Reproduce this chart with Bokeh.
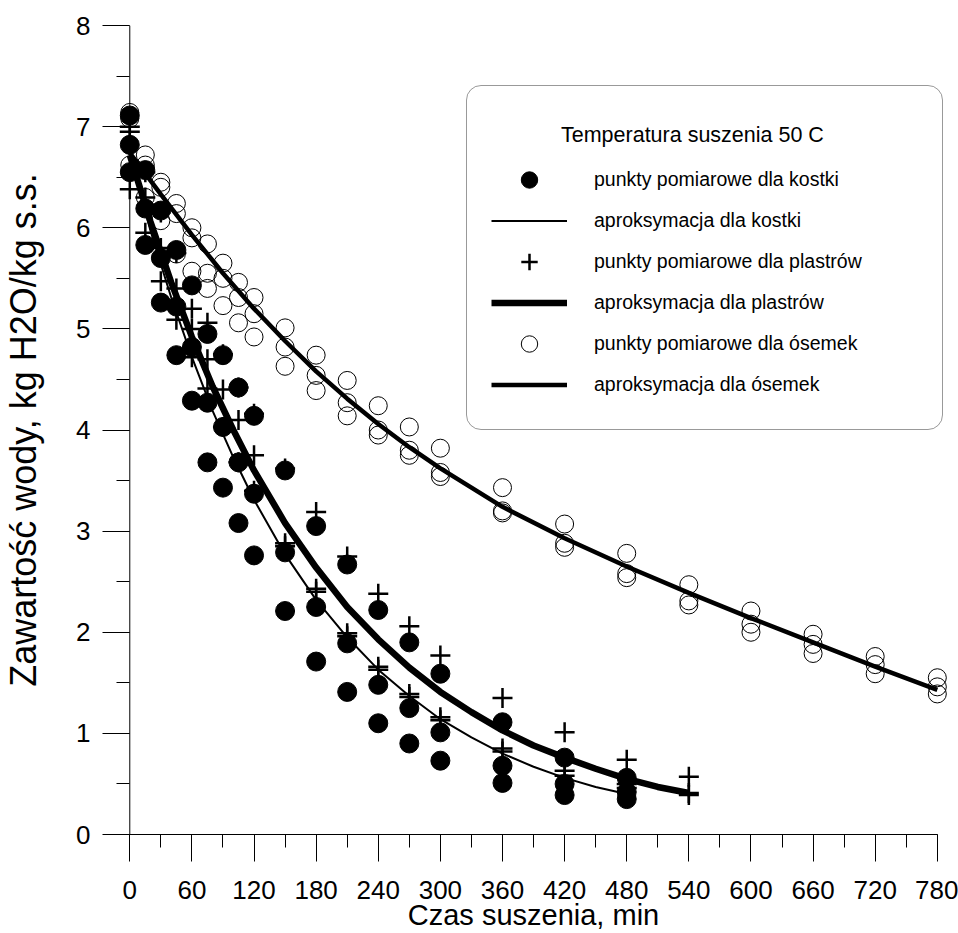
from bokeh.plotting import figure
from bokeh.models import Range1d, SingleIntervalTicker, Span, Legend, LegendItem, Label
from bokeh.embed import file_html
from bokeh.resources import INLINE

FONT = "Liberation Sans"

# ---- measured points: kostka (filled circles), 3 replicates ----
kostka_time = [0, 15, 30, 45, 60, 75, 90, 105, 120, 150, 180, 210, 240, 270, 300, 360, 420, 480]
kostka_r1 = [7.11, 6.57, 6.17, 5.78, 5.43, 4.95, 4.74, 4.42, 4.14, 3.60, 3.05, 2.67, 2.22, 1.90, 1.59, 1.11, 0.76, 0.56]
kostka_r2 = [6.82, 6.19, 5.70, 5.22, 4.82, 4.27, 4.03, 3.68, 3.37, 2.79, 2.25, 1.89, 1.48, 1.25, 1.01, 0.68, 0.50, 0.42]
kostka_r3 = [6.55, 5.83, 5.26, 4.74, 4.29, 3.68, 3.43, 3.08, 2.76, 2.21, 1.71, 1.41, 1.10, 0.90, 0.73, 0.51, 0.39, 0.35]

# ---- measured points: plastry (plus signs) ----
plastry_time = [0, 15, 30, 45, 60, 75, 90, 105, 120, 150, 180, 210, 240, 270, 300, 360, 420, 480, 540]
plastry_r1 = [7.00, 6.55, 6.15, 5.75, 5.20, 5.06, 4.75, 4.42, 4.16, 3.62, 3.19, 2.75, 2.38, 2.06, 1.77, 1.35, 1.01, 0.74, 0.57]
plastry_r2 = [6.38, 5.95, 5.47, 5.09, 4.72, 4.41, 4.03, 3.68, 3.40, 2.88, 2.43, 1.99, 1.66, 1.39, 1.16, 0.85, 0.63, 0.50, 0.41]
plastry_r3 = [6.95, 6.30, 5.80, 5.40, 5.00, 4.70, 4.40, 4.10, 3.75, 2.85, 2.40, 1.96, 1.63, 1.36, 1.13, 0.82, 0.58, 0.46, 0.39]

# ---- measured points: ósemki (open circles) ----
osemki_time = [0, 15, 30, 45, 60, 75, 90, 105, 120, 150, 180, 210, 240, 270, 300, 360, 420, 480, 540, 600, 660, 720, 780]
osemki_r1 = [7.14, 6.72, 6.45, 6.24, 6.00, 5.84, 5.65, 5.46, 5.31, 5.01, 4.74, 4.49, 4.24, 4.03, 3.82, 3.43, 3.07, 2.78, 2.47, 2.21, 1.98, 1.76, 1.55]
osemki_r2 = [7.08, 6.62, 6.40, 6.14, 5.90, 5.55, 5.50, 5.31, 5.15, 4.82, 4.54, 4.27, 4.00, 3.80, 3.58, 3.20, 2.88, 2.58, 2.31, 2.08, 1.88, 1.68, 1.46]
osemki_r3 = [6.62, 6.30, 6.07, 5.74, 5.57, 5.40, 5.23, 5.06, 4.92, 4.63, 4.39, 4.14, 3.95, 3.75, 3.54, 3.18, 2.84, 2.54, 2.27, 2.00, 1.79, 1.59, 1.39]

# ---- approximation curves ----
kostka_fit_t = [0, 20, 40, 60, 80, 100, 120, 150, 180, 210, 240, 270, 300, 330, 360, 390, 420, 450, 480]
kostka_fit_v = [6.72, 5.97, 5.31, 4.72, 4.19, 3.73, 3.31, 2.77, 2.32, 1.95, 1.63, 1.37, 1.14, 0.96, 0.80, 0.67, 0.56, 0.47, 0.40]
plastry_fit_t = [0, 20, 40, 60, 80, 100, 120, 150, 180, 210, 240, 270, 300, 330, 360, 390, 420, 450, 480, 510, 540]
plastry_fit_v = [6.72, 6.06, 5.46, 4.92, 4.43, 4.00, 3.60, 3.08, 2.64, 2.25, 1.93, 1.65, 1.41, 1.21, 1.03, 0.88, 0.76, 0.65, 0.55, 0.47, 0.41]
osemki_fit_t = [0, 30, 60, 90, 120, 150, 180, 210, 240, 270, 300, 360, 420, 480, 540, 600, 660, 720, 780]
osemki_fit_v = [6.74, 6.33, 5.93, 5.55, 5.20, 4.88, 4.58, 4.31, 4.06, 3.83, 3.62, 3.24, 2.93, 2.65, 2.39, 2.14, 1.90, 1.66, 1.43]

x_ticks_interval = 60
y_ticks_interval = 1
legend_title = "Temperatura suszenia 50 C"

p = figure(width=958, height=933, output_backend="svg", toolbar_location=None,
           x_range=Range1d(-11.87, 791.77), y_range=Range1d(0, 8),
           min_border_left=116, min_border_right=9, min_border_top=25, min_border_bottom=99,
           x_axis_label="Czas suszenia, min",
           y_axis_label="Zawartość wody, kg H2O/kg s.s.")
p.grid.visible = False
p.outline_line_color = None
p.background_fill_color = "white"
p.border_fill_color = "white"

xa = p.xaxis[0]
xa.ticker = SingleIntervalTicker(interval=x_ticks_interval, num_minor_ticks=2)
xa.bounds = (0, 780)
xa.axis_line_color = "black"
xa.axis_line_width = 1
xa.major_tick_line_color = "black"
xa.minor_tick_line_color = "black"
xa.major_tick_out = 27
xa.major_tick_in = 0
xa.minor_tick_out = 13
xa.minor_tick_in = 0
xa.major_label_text_font = FONT
xa.major_label_text_font_size = "26px"
xa.major_label_text_color = "black"
xa.major_label_standoff = 19
xa.axis_label_text_font = FONT
xa.axis_label_text_font_size = "29px"
xa.axis_label_text_font_style = "normal"
xa.axis_label_text_color = "black"
xa.axis_label_standoff = -3

ya = p.yaxis[0]
ya.ticker = SingleIntervalTicker(interval=y_ticks_interval, num_minor_ticks=2)
ya.axis_line_color = None
ya.major_tick_line_color = "black"
ya.minor_tick_line_color = "black"
ya.major_tick_out = 15
ya.major_tick_in = 12
ya.minor_tick_out = 1
ya.minor_tick_in = 12
ya.major_label_text_font = FONT
ya.major_label_text_font_size = "26px"
ya.major_label_text_color = "black"
ya.major_label_standoff = 12
ya.axis_label_text_font = FONT
ya.axis_label_text_font_size = "36px"
ya.axis_label_text_font_style = "normal"
ya.axis_label_text_color = "black"
ya.axis_label_standoff = 29

# y axis line drawn at time 0
p.add_layout(Span(location=0, dimension="height", line_color="black", line_width=1))

r_k = p.scatter(kostka_time * 3, kostka_r1 + kostka_r2 + kostka_r3, marker="circle",
                size=19, fill_color="black", line_color="black")
r_o = p.scatter(osemki_time * 3, osemki_r1 + osemki_r2 + osemki_r3, marker="circle",
                size=18, fill_color=None, line_color="black", line_width=1)
r_p = p.scatter(plastry_time * 3, plastry_r1 + plastry_r2 + plastry_r3, marker="cross",
                size=20, line_color="black", line_width=2.5)

l_k = p.line(kostka_fit_t, kostka_fit_v, line_color="black", line_width=2)
l_p = p.line(plastry_fit_t, plastry_fit_v, line_color="black", line_width=6.5)
l_o = p.line(osemki_fit_t, osemki_fit_v, line_color="black", line_width=4.5)

# legend title, centred over the legend entries
p.add_layout(Label(x=416.5, y=6.92, text=legend_title,
                   text_font=FONT, text_font_size="21.5px", text_color="black",
                   text_align="left", text_baseline="middle"))

legend = Legend(items=[
    LegendItem(label="punkty pomiarowe dla kostki", renderers=[r_k]),
    LegendItem(label="aproksymacja dla kostki", renderers=[l_k]),
    LegendItem(label="punkty pomiarowe dla plastrów", renderers=[r_p]),
    LegendItem(label="aproksymacja dla plastrów", renderers=[l_p]),
    LegendItem(label="punkty pomiarowe dla ósemek", renderers=[r_o]),
    LegendItem(label="aproksymacja dla ósemek", renderers=[l_o]),
], location=(349, 404), title=" ")
legend.padding = 24
legend.spacing = 0
legend.margin = 0
legend.glyph_width = 76
legend.glyph_height = 41
legend.label_height = 41
legend.label_width = 324
legend.label_standoff = 27
legend.label_text_font = FONT
legend.label_text_font_size = "19.5px"
legend.label_text_color = "black"
legend.title_text_font = FONT
legend.title_text_font_size = "21px"
legend.title_text_font_style = "normal"
legend.title_standoff = 25
legend.border_line_color = "#333333"
legend.border_line_width = 1
legend.background_fill_alpha = 0
try:
    legend.border_radius = 15
except Exception:
    pass
p.add_layout(legend)

open("out.html", "w").write(file_html(p, INLINE))
